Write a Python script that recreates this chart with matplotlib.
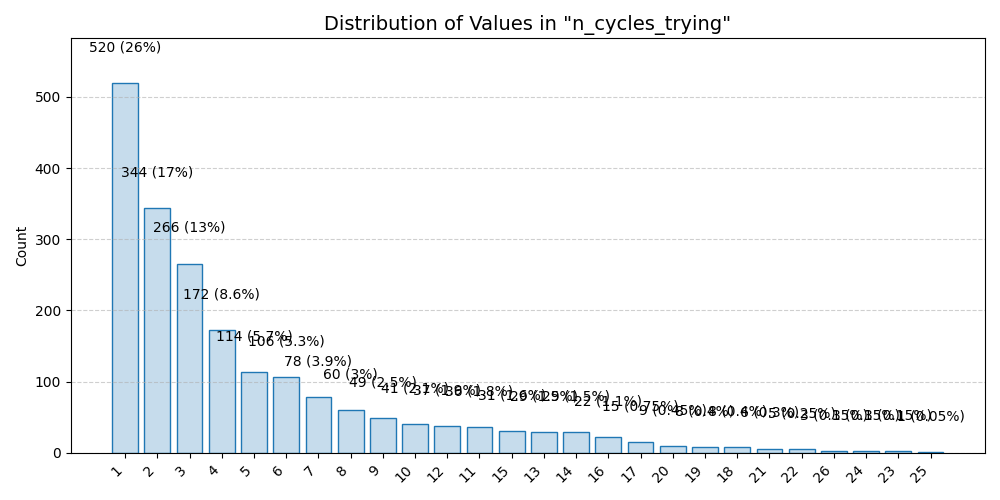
import matplotlib
matplotlib.use("Agg")
import matplotlib.pyplot as plt

categories = ["1", "2", "3", "4", "5", "6", "7", "8", "9", "10", "12", "11", "15", "13",
              "14", "16", "17", "20", "19", "18", "21", "22", "26", "24", "23", "25"]
counts = [520, 344, 266, 172, 114, 106, 78, 60, 49, 41, 37, 36, 31, 29,
          29, 22, 15, 9, 8, 8, 6, 5, 3, 3, 3, 1]

total = sum(counts)

fig, ax = plt.subplots(figsize=(10, 5), dpi=100)
x = list(range(len(categories)))
ax.bar(x, counts, width=0.8, color=(31/255, 119/255, 180/255, 0.25),
       edgecolor="#1f77b4", linewidth=1)
for xi, c in zip(x, counts):
    pct = 100.0 * c / total
    ax.text(xi, c + 50, f"{c} ({pct:.2g}%)", ha="center", va="center", fontsize=10)

ax.set_xticks(x)
ax.set_xticklabels(categories, rotation=45, ha="right")
ax.set_ylim(0, max(counts) * 1.12)
ax.set_ylabel("Count")
ax.set_title('Distribution of Values in "n_cycles_trying"', fontsize=14)
ax.grid(axis="y", linestyle="--", alpha=0.6)
fig.tight_layout()
fig.savefig("out.png")
